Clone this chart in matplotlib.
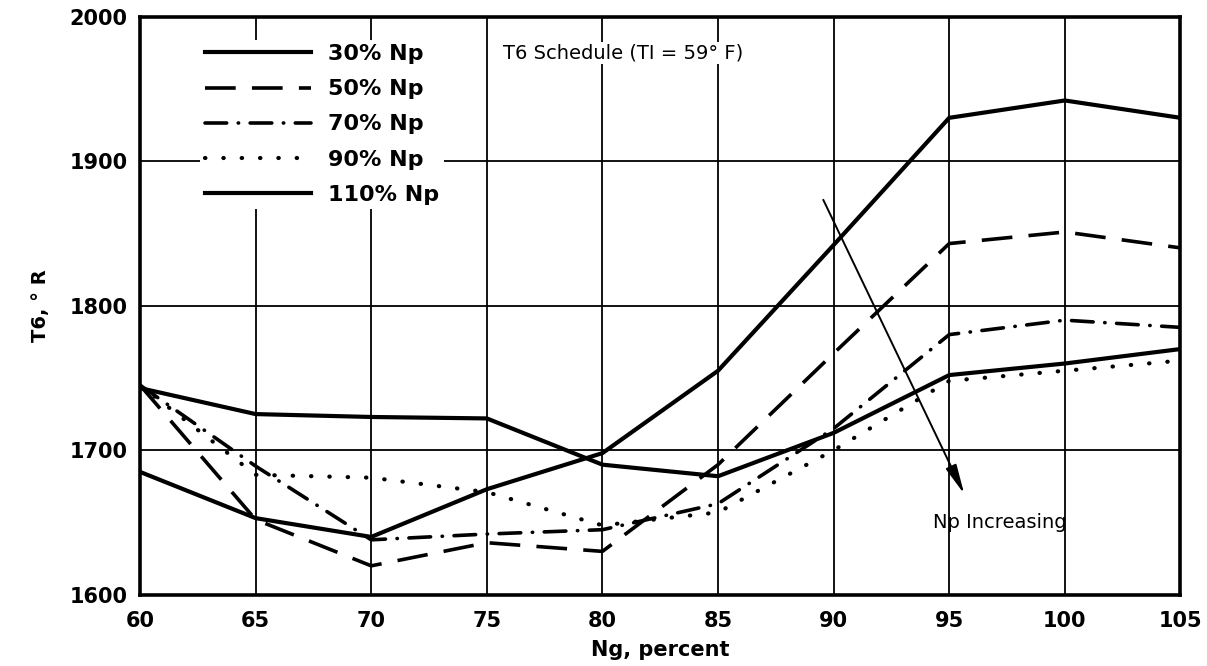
import matplotlib.pyplot as plt

# Ng (percent) and T6 (deg R)
ng = [60, 65, 70, 75, 80, 85, 90, 95, 100, 105]
t6_30 = [1685, 1653, 1640, 1673, 1698, 1755, 1842, 1930, 1942, 1930]
t6_50 = [1745, 1652, 1620, 1636, 1630, 1690, 1767, 1843, 1851, 1840]
t6_70 = [1745, 1689, 1638, 1642, 1645, 1663, 1715, 1780, 1790, 1785]
t6_90 = [1745, 1683, 1681, 1671, 1648, 1657, 1700, 1748, 1755, 1762]
t6_110 = [1743, 1725, 1723, 1722, 1690, 1682, 1712, 1752, 1760, 1770]
labels = ['30% Np', '50% Np', '70% Np', '90% Np', '110% Np']
x_ticks = [60, 65, 70, 75, 80, 85, 90, 95, 100, 105]
y_ticks = [1600, 1700, 1800, 1900, 2000]

fig = plt.figure(figsize=(12.07, 6.66), dpi=100)
ax = fig.add_axes([0.116, 0.107, 0.862, 0.868])

styles = [
    dict(ls='-', lw=3.0),
    dict(ls=(0, (8.5, 4.5)), lw=2.6),
    dict(ls=(0, (6, 3.2, 0.1, 3.2)), lw=2.6, dash_capstyle='round'),
    dict(ls=(0, (0.1, 4.3)), lw=3.0, dash_capstyle='round'),
    dict(ls='-', lw=3.0),
]
series = [t6_30, t6_50, t6_70, t6_90, t6_110]
for ys, lab, st in zip(series, labels, styles):
    ax.plot(ng, ys, color='black', label=lab, zorder=3, **st)

ax.set_xlim(60, 105)
ax.set_ylim(1600, 2000)
ax.set_xticks(x_ticks)
ax.set_yticks(y_ticks)
ax.grid(color='black', lw=1.3, zorder=1)
ax.set_axisbelow(True)
for sp in ax.spines.values():
    sp.set_linewidth(2.6)
ax.tick_params(length=0, labelsize=15)
ax.tick_params(axis='x', pad=12)
ax.tick_params(axis='y', pad=9)
for t in ax.get_xticklabels() + ax.get_yticklabels():
    t.set_fontweight('bold')

ax.set_xlabel('Ng, percent', fontsize=15, fontweight='bold', labelpad=6)
ax.set_ylabel('T6, ° R', fontsize=14, fontweight='bold', labelpad=14)

leg = ax.legend(loc='upper left', bbox_to_anchor=(0.058, 0.96), borderaxespad=0,
                frameon=True, fancybox=False, facecolor='white', edgecolor='none',
                framealpha=1, prop=dict(size=16, weight='bold'),
                handlelength=4.8, labelspacing=0.68, handletextpad=0.75, borderpad=0.2)
leg.set_zorder(5)

ax.text(75.7, 1975, 'T6 Schedule (TI = 59° F)', fontsize=14, ha='left', va='center',
        bbox=dict(facecolor='white', edgecolor='none', pad=1), zorder=4)
ax.annotate('', xy=(95.7, 1668), xytext=(89.5, 1875),
            arrowprops=dict(arrowstyle='-|>,head_length=1.8,head_width=0.35',
                            color='black', lw=1.4), zorder=4)
ax.text(97.2, 1650, 'Np Increasing', fontsize=14, ha='center', va='center', zorder=4)

fig.savefig('out.png', dpi=100)
